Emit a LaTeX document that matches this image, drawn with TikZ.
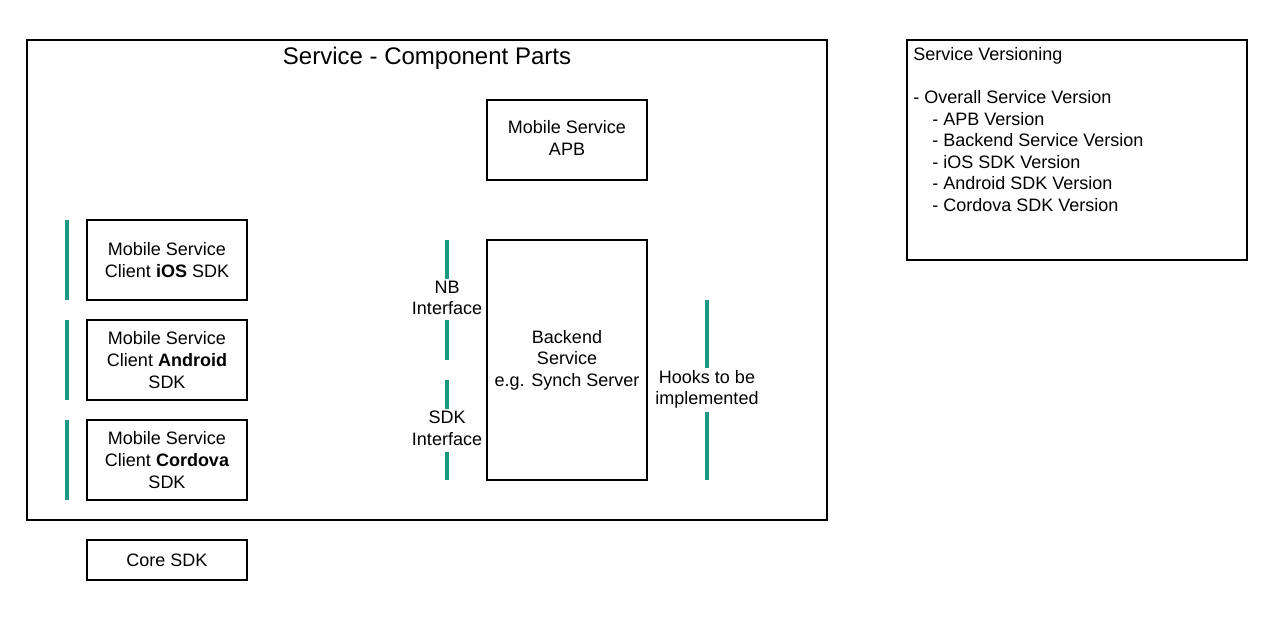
\documentclass[tikz,border=0pt]{standalone}
\usepackage{fontspec}
\setmainfont{Liberation Sans}
\definecolor{tealbar}{RGB}{24,152,126}
\begin{document}
\begin{tikzpicture}[x=0.75pt,y=-0.75pt,
  every node/.style={font=\fontsize{13.5pt}{16.2pt}\selectfont},
  frame/.style={draw=black,line width=1.5pt,fill=none,outer sep=0pt,inner sep=0pt},
  box/.style={draw=black,line width=1.5pt,fill=white,align=center,inner sep=0pt},
  bar/.style={draw=tealbar,line width=3pt},
  lbl/.style={align=center,inner sep=0pt}]
\useasboundingbox[fill=white] (0,0) rectangle (1287,620);
% outer frame
\node[frame,minimum width=600pt,minimum height=360pt,anchor=north west] (outer) at (27,40) {};
\node[font=\fontsize{18pt}{21.6pt}\selectfont,inner sep=0pt] (title) at (427,58.5) {Service - Component Parts};
% boxes
\node[box,minimum width=120pt,minimum height=60pt] (apb) at (567,140) {};
\node[lbl] (apbt) at (567,138) {Mobile Service\\APB};
\node[box,minimum width=120pt,minimum height=60pt] (ios) at (167,260) {Mobile Service\\Client {\bfseries iOS} SDK};
\node[box,minimum width=120pt,minimum height=60pt] (android) at (167,360) {Mobile Service\\Client {\bfseries Android}\\SDK};
\node[box,minimum width=120pt,minimum height=60pt] (cordova) at (167,460) {Mobile Service\\Client {\bfseries Cordova}\\SDK};
\node[box,minimum width=120pt,minimum height=30pt] (core) at (167,560) {Core SDK};
\node[box,minimum width=120pt,minimum height=180pt] (backend) at (567,360) {Backend\\Service\\e.g. Synch Server};
% versioning box
\node[frame,minimum width=255pt,minimum height=165pt,anchor=north west] (vers) at (907,40) {};
\node[anchor=north west,align=left,inner sep=0pt] (verstext) at (913,47) {Service Versioning\\\mbox{}\\- Overall Service Version\\\hspace*{14.25pt}- APB Version\\\hspace*{14.25pt}- Backend Service Version\\\hspace*{14.25pt}- iOS SDK Version\\\hspace*{14.25pt}- Android SDK Version\\\hspace*{14.25pt}- Cordova SDK Version};
% teal bars next to client SDKs
\coordinate (b1a) at (67,220); \coordinate (b1b) at (67,300);
\coordinate (b2a) at (67,320); \coordinate (b2b) at (67,400);
\coordinate (b3a) at (67,420); \coordinate (b3b) at (67,500);
\draw[bar] (b1a) -- (b1b);
\draw[bar] (b2a) -- (b2b);
\draw[bar] (b3a) -- (b3b);
% interface bars
\coordinate (nba) at (447,240); \coordinate (nbb) at (447,279);
\coordinate (nbc) at (447,320); \coordinate (nbd) at (447,360);
\coordinate (sdka) at (447,380); \coordinate (sdkb) at (447,409);
\coordinate (sdkc) at (447,452); \coordinate (sdkd) at (447,480);
\coordinate (hka) at (707,300); \coordinate (hkb) at (707,368);
\coordinate (hkc) at (707,412); \coordinate (hkd) at (707,480);
\draw[bar] (nba) -- (nbb);
\draw[bar] (nbc) -- (nbd);
\draw[bar] (sdka) -- (sdkb);
\draw[bar] (sdkc) -- (sdkd);
\draw[bar] (hka) -- (hkb);
\draw[bar] (hkc) -- (hkd);
\node[lbl] (nbl) at (447,298) {NB\\Interface};
\node[lbl] (sdkl) at (447,428) {SDK\\Interface};
\node[lbl] (hkl) at (707,389.5) {Hooks to be\\implemented};
\end{tikzpicture}
\end{document}
